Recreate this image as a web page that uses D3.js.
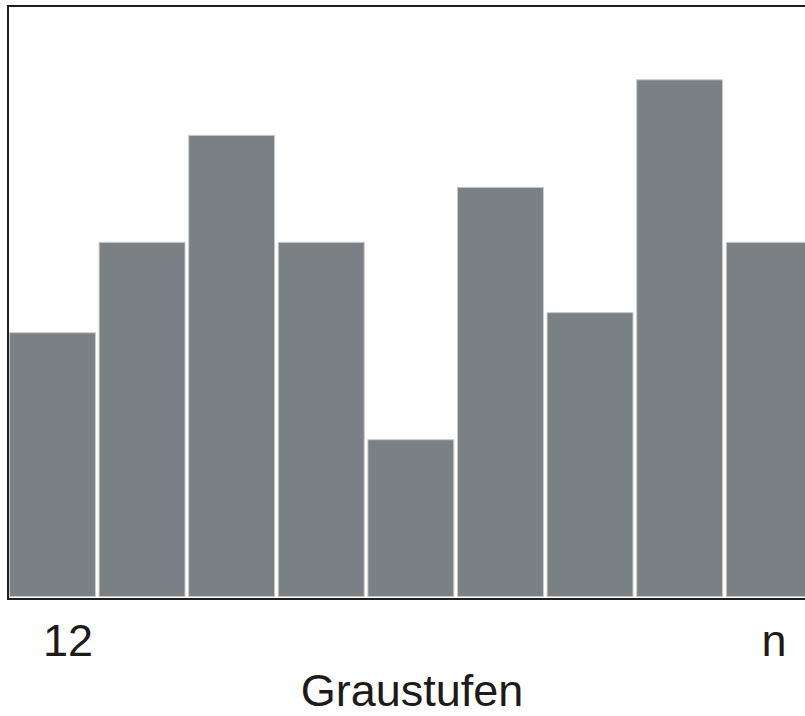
<!DOCTYPE html>
<html>
<head>
<meta charset="utf-8">
<script src="https://cdn.jsdelivr.net/npm/d3@7"></script>
<style>
html,body{margin:0;padding:0;background:#fff;overflow:hidden;}
svg{display:block;}
</style>
</head>
<body>
<script>
const categories = ["1","2","3","4","5","6","7","8","9"];
const values = [44.8, 60.1, 78.2, 60.1, 26.7, 69.4, 48.2, 87.6, 60.1];
const tickLabels = ["12", "n"];
const axisTitle = "Graustufen";

const W = 805, H = 716;
const svg = d3.select("body").append("svg").attr("width", W).attr("height", H);

const x = d3.scaleBand().domain(categories).range([9, 9 + 9 * 89.3]).paddingInner(0.03).paddingOuter(0);
const y = d3.scaleLinear().domain([0, 100]).range([597, 6]);

// frame
svg.append("rect")
  .attr("x", 8).attr("y", 6)
  .attr("width", 815).attr("height", 593)
  .attr("fill", "none").attr("stroke", "#1f1f1f").attr("stroke-width", 2);

svg.append("g").selectAll("rect").data(values).join("rect")
  .attr("x", (d, i) => x(categories[i]) + 0.5)
  .attr("y", d => y(d) + 0.5)
  .attr("width", x.bandwidth() - 1)
  .attr("height", d => y(0) - y(d) - 1)
  .attr("fill", "#7b8085")
  .attr("stroke", "#c9cacb")
  .attr("stroke-width", 1);

const font = "'Liberation Sans', Arial, sans-serif";
svg.append("text").attr("x", 68).attr("y", 656).attr("text-anchor", "middle")
  .attr("font-family", font).attr("font-size", 45).attr("fill", "#1e1a1a").text(tickLabels[0]);
svg.append("text").attr("x", 774).attr("y", 656).attr("text-anchor", "middle")
  .attr("font-family", font).attr("font-size", 45).attr("fill", "#1e1a1a").text(tickLabels[1]);
svg.append("text").attr("x", 412).attr("y", 706).attr("text-anchor", "middle")
  .attr("font-family", font).attr("font-size", 45).attr("fill", "#1e1a1a").text(axisTitle);
</script>
</body>
</html>
